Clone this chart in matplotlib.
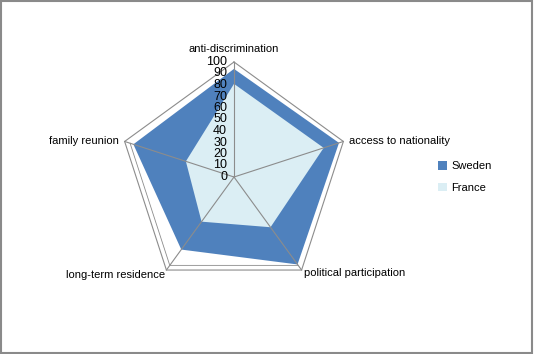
import numpy as np
import matplotlib.pyplot as plt
from matplotlib.patches import Patch, Rectangle

categories = ["anti-discrimination", "access to nationality", "political participation",
              "long-term residence", "family reunion"]
sweden = [94, 96, 94, 78, 92]
france = [81, 82, 54, 48, 44]
ticks = list(range(0, 101, 10))

SWEDEN_COLOR = "#4F81BD"
FRANCE_COLOR = "#DBEEF4"
GRID_COLOR = "#8C8C8C"

plt.rcParams["font.family"] = ["Liberation Sans", "DejaVu Sans"]

n = len(categories)
angles = np.pi / 2 - np.arange(n) * 2 * np.pi / n


def to_xy(values, angs=angles):
    v = np.asarray(values, dtype=float)
    return v * np.cos(angs), v * np.sin(angs)


fig = plt.figure(figsize=(5.34, 3.54), dpi=100)
# axes sized so that 100 units = 115 px, centred on (234, 177) px
half = 150
scale = 115 / 100
ax = fig.add_axes([(234 - half) / 534, (354 - 177 - half) / 354, 2 * half / 534, 2 * half / 354])
ax.set_xlim(-half / scale, half / scale)
ax.set_ylim(-half / scale, half / scale)
ax.set_aspect("equal")
ax.axis("off")

# filled series
sx, sy = to_xy(sweden)
ax.fill(sx, sy, color=SWEDEN_COLOR, lw=0, zorder=2)
fx, fy = to_xy(france)
ax.fill(fx, fy, color=FRANCE_COLOR, lw=0, zorder=3)

# outer gridline at 100 and spokes
gx, gy = to_xy([100] * n)
ax.plot(np.append(gx, gx[0]), np.append(gy, gy[0]), color=GRID_COLOR, lw=0.8, zorder=4)
ix, iy = to_xy([95] * 3, angles[2:5])
ax.plot(ix[::-1], iy[::-1], color=GRID_COLOR, lw=0.6, zorder=1)
for x, y in zip(gx, gy):
    ax.plot([0, x], [0, y], color=GRID_COLOR, lw=0.8, zorder=4)

# radial tick labels
for t in ticks:
    ax.text(-6, t, str(t), ha="right", va="center", fontsize=9, zorder=5)

# category labels
ax.text(0, 107, categories[0], ha="center", va="bottom", fontsize=8)
ax.text(gx[1] + 5, gy[1], categories[1], ha="left", va="center", fontsize=8)
ax.text(gx[2] + 2, gy[2] - 3, categories[2], ha="left", va="center", fontsize=8)
ax.text(gx[3] - 1, gy[3] - 4, categories[3], ha="right", va="center", fontsize=8)
ax.text(gx[4] - 5, gy[4], categories[4], ha="right", va="center", fontsize=8)

handles = [Patch(facecolor=SWEDEN_COLOR, edgecolor="none", label="Sweden"),
           Patch(facecolor=FRANCE_COLOR, edgecolor="none", label="France")]
fig.legend(handles=handles, loc="center left", bbox_to_anchor=(428 / 534, 1 - 177 / 354),
           frameon=False, fontsize=8, handlelength=0.8, handleheight=0.8,
           handletextpad=0.4, labelspacing=1.0)

fig.add_artist(Rectangle((0.002, 0.003), 0.995, 0.994, transform=fig.transFigure,
                         fill=False, edgecolor="#8A8A8A", lw=1.5))

fig.savefig("out.png", dpi=100)
